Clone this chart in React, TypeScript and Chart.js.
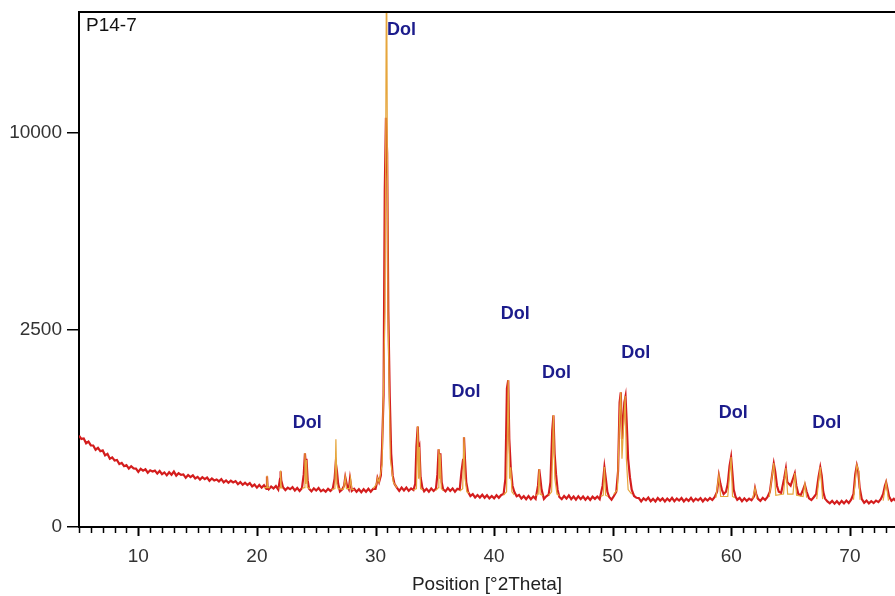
import { useEffect, useRef } from "react";
import { Chart, registerables } from "chart.js";

Chart.register(...registerables);

// ---------- text ----------
const SAMPLE_NAME = "P14-7";
const X_TITLE = "Position [°2Theta]";

// ---------- axes ----------
const X_MIN = 5;
const X_MAX = 73.8;
const Y_MAX_COUNTS = 17100;
const Y_TICKS = [0, 2500, 10000];
const X_LABEL_STEP = 10;

// ---------- measured scan (2θ, counts) ----------
const scanLow: [number, number][] = [
  [5.0, 538], [5.2, 500], [5.4, 505], [5.6, 452], [5.8, 470], [6.0, 430], [6.2, 428], [6.4, 385],
  [6.6, 404], [6.8, 370], [7.0, 378], [7.2, 331], [7.4, 345], [7.6, 300], [7.8, 312], [8.0, 285],
  [8.2, 290], [8.4, 255], [8.6, 265], [8.8, 238], [9.0, 246], [9.2, 220], [9.4, 238], [9.6, 222],
  [9.8, 220], [10.0, 196], [10.2, 218], [10.4, 205], [10.6, 215], [10.8, 190], [11.0, 207], [11.2, 198],
  [11.4, 205], [11.6, 184], [11.8, 202], [12.0, 180], [12.2, 192], [12.4, 172], [12.6, 193], [12.8, 176],
  [13.0, 198], [13.2, 170], [13.4, 186], [13.6, 175], [13.8, 178], [14.0, 156], [14.2, 174], [14.4, 160],
  [14.6, 172], [14.8, 152], [15.0, 162], [15.2, 145], [15.4, 160], [15.6, 148], [15.8, 158], [16.0, 138],
  [16.2, 152], [16.4, 140], [16.6, 146], [16.8, 134], [17.0, 148], [17.2, 128], [17.4, 140], [17.6, 126],
  [17.8, 138], [18.0, 128], [18.2, 136], [18.4, 118], [18.6, 130], [18.8, 115], [19.0, 126], [19.2, 114],
  [19.4, 124], [19.6, 106], [19.8, 116], [20.0, 100], [20.2, 114], [20.4, 100], [20.6, 112],
];

const scanMid: [number, number][] = [
  [20.8, 94], [20.85, 165], [20.9, 104], [21.0, 92], [21.2, 106], [21.4, 96], [21.6, 108], [21.8, 90],
  [21.95, 150], [22.0, 200], [22.05, 140], [22.2, 102], [22.4, 88], [22.6, 100], [22.8, 92], [23.0, 102],
  [23.2, 86], [23.4, 98], [23.6, 84], [23.8, 98], [23.95, 180], [24.05, 350], [24.12, 250], [24.18, 300],
  [24.28, 140], [24.4, 94], [24.6, 82], [24.8, 96], [25.0, 86], [25.2, 98], [25.4, 82], [25.6, 90],
  [25.8, 80], [26.0, 94], [26.2, 84], [26.4, 96], [26.55, 150], [26.65, 265], [26.75, 200], [26.85, 120],
  [27.0, 82], [27.2, 92], [27.35, 110], [27.45, 160], [27.6, 110], [27.75, 92], [27.85, 150], [28.0, 84],
  [28.2, 94], [28.4, 80], [28.6, 92], [28.8, 78], [29.0, 92], [29.2, 80], [29.4, 94], [29.6, 80],
  [29.8, 94], [30.0, 94], [30.1, 120], [30.17, 155], [30.3, 130],
];

const scanMain: [number, number][] = [
  [30.45, 170], [30.55, 400], [30.68, 1120], [30.78, 7300], [30.88, 10800], [30.98, 9000], [31.08, 3000],
  [31.2, 1100], [31.32, 350], [31.45, 170], [31.6, 120], [31.8, 100], [32.0, 84], [32.2, 100], [32.4, 86],
  [32.6, 100], [32.8, 84], [33.0, 96], [33.2, 88],
];

const scanA: [number, number][] = [
  [33.35, 120], [33.45, 420], [33.56, 650], [33.63, 380], [33.7, 410], [33.8, 160], [33.95, 100], [34.1, 82],
  [34.3, 94], [34.5, 80], [34.7, 96], [34.9, 84], [35.1, 96], [35.22, 180], [35.32, 390], [35.4, 260],
  [35.47, 350], [35.58, 130], [35.7, 92], [35.9, 82], [36.1, 98], [36.3, 84], [36.5, 96], [36.7, 80],
  [36.9, 94], [37.1, 90], [37.25, 200], [37.38, 290], [37.46, 520], [37.55, 280], [37.65, 130], [37.8, 80],
  [38.0, 62], [38.2, 70], [38.4, 56], [38.6, 66], [38.8, 56], [39.0, 67], [39.2, 55], [39.4, 65],
  [39.6, 53], [39.8, 62], [40.0, 53], [40.2, 65], [40.4, 55], [40.6, 66], [40.8, 70], [40.95, 150],
  [41.08, 1240], [41.19, 1390], [41.28, 500], [41.4, 230], [41.55, 110], [41.7, 80], [41.9, 61], [42.1, 66],
  [42.3, 52], [42.5, 61], [42.7, 50], [42.9, 62], [43.1, 50], [43.3, 60], [43.5, 51], [43.7, 110],
  [43.8, 215], [43.9, 150], [44.0, 90], [44.2, 51], [44.4, 61], [44.6, 68], [44.75, 130], [44.9, 600],
  [45.0, 805], [45.1, 350], [45.22, 180], [45.35, 90], [45.5, 58], [45.7, 50], [45.9, 62],
];

const scanB: [number, number][] = [
  [46.1, 52], [46.3, 64], [46.5, 50], [46.7, 60], [46.9, 48], [47.1, 61], [47.3, 50], [47.5, 60],
  [47.7, 48], [47.9, 58], [48.1, 47], [48.3, 59], [48.5, 51], [48.7, 60], [48.9, 50], [49.15, 110],
  [49.3, 230], [49.42, 150], [49.55, 80], [49.7, 58], [49.9, 48], [50.1, 62], [50.3, 80], [50.45, 200],
  [50.58, 1000], [50.68, 1170], [50.78, 500], [50.88, 700], [50.98, 1000], [51.08, 1100], [51.18, 700], [51.3, 300],
  [51.45, 160], [51.6, 90], [51.8, 62], [52.0, 55], [52.2, 54], [52.4, 42], [52.6, 53], [52.8, 46],
  [53.0, 56], [53.2, 43], [53.4, 51], [53.6, 42], [53.8, 54], [54.0, 45], [54.2, 53], [54.4, 42],
  [54.6, 52], [54.8, 44], [55.0, 55], [55.2, 43], [55.4, 52], [55.6, 45], [55.8, 54], [56.0, 42],
  [56.2, 51], [56.4, 44], [56.6, 55], [56.8, 43], [57.0, 52], [57.2, 46], [57.4, 54], [57.6, 42],
  [57.8, 52], [58.0, 45], [58.2, 54], [58.4, 47], [58.6, 58], [58.8, 80], [58.95, 170], [59.08, 120],
  [59.2, 90], [59.35, 70], [59.55, 80], [59.7, 120], [59.85, 240], [59.98, 315], [60.08, 200], [60.2, 90],
];

const scanC: [number, number][] = [
  [60.35, 60], [60.5, 48], [60.7, 55], [60.9, 43], [61.1, 53], [61.3, 44], [61.5, 52], [61.7, 46],
  [61.9, 60], [62.0, 95], [62.1, 70], [62.25, 51], [62.45, 44], [62.65, 55], [62.85, 47], [63.05, 58],
  [63.25, 80], [63.45, 180], [63.58, 260], [63.7, 200], [63.85, 110], [64.0, 80], [64.2, 75], [64.45, 150],
  [64.6, 220], [64.72, 130], [64.85, 120], [65.0, 110], [65.2, 150], [65.35, 185], [65.48, 110], [65.65, 70],
  [65.85, 65], [66.05, 90], [66.2, 115], [66.35, 80], [66.55, 53], [66.75, 47], [66.95, 57], [67.15, 70],
  [67.35, 160], [67.5, 230], [67.62, 170], [67.75, 80], [67.9, 52], [68.1, 42], [68.3, 36], [68.5, 44],
  [68.7, 35], [68.9, 43], [69.1, 34], [69.3, 44], [69.5, 36], [69.7, 45], [69.9, 37], [70.1, 48],
  [70.3, 70], [70.45, 180], [70.58, 245], [70.7, 200], [70.82, 100], [71.0, 50], [71.2, 38], [71.4, 45],
  [71.6, 36], [71.8, 43], [72.0, 37], [72.2, 45], [72.4, 40], [72.6, 50], [72.8, 70], [72.95, 110],
  [73.05, 130], [73.15, 100], [73.3, 60], [73.5, 44], [73.7, 51], [73.9, 42],
];

// ---------- calculated profile segments (2θ, counts) ----------
const calcGroups: [number, number][][] = [
  [[20.6, 100], [20.8, 100], [20.85, 170], [20.9, 100], [21.1, 100]],
  [[21.8, 98], [21.95, 98], [22.0, 205], [22.05, 98], [22.2, 98]],
  [[23.8, 95], [23.98, 100], [24.05, 353], [24.12, 120], [24.18, 290], [24.25, 100], [24.5, 95]],
  [[26.3, 90], [26.58, 95], [26.66, 497], [26.74, 120], [26.85, 95], [27.3, 92], [27.45, 160], [27.55, 95],
   [27.8, 95], [27.9, 150], [28.0, 92], [28.2, 90]],
  [[29.8, 95], [30.1, 120], [30.17, 155], [30.3, 130], [30.55, 250], [30.8, 3000], [30.93, 22000],
   [31.05, 3000], [31.25, 300], [31.5, 130], [31.8, 100]],
  [[33.2, 88], [33.45, 95], [33.56, 657], [33.63, 150], [33.7, 412], [33.8, 95], [34.0, 88]],
  [[35.1, 86], [35.3, 100], [35.34, 392], [35.4, 150], [35.45, 340], [35.55, 95], [35.7, 86]],
  [[37.1, 84], [37.35, 95], [37.46, 522], [37.55, 150], [37.7, 80], [37.9, 75]],
  [[40.8, 66], [41.05, 80], [41.19, 1392], [41.3, 150], [41.4, 230], [41.5, 80], [41.7, 66]],
  [[43.5, 64], [43.72, 70], [43.8, 217], [43.88, 70], [44.1, 64]],
  [[44.6, 64], [44.85, 80], [45.0, 808], [45.12, 150], [45.3, 70], [45.5, 64]],
  [[49.0, 60], [49.2, 65], [49.3, 232], [49.4, 65], [49.6, 60]],
  [[50.1, 70], [50.4, 90], [50.6, 900], [50.68, 1174], [50.78, 300], [50.9, 600], [51.05, 1105], [51.15, 300],
   [51.3, 90], [51.6, 70]],
  [[58.7, 55], [58.95, 174], [59.1, 60], [59.7, 60], [59.98, 316], [60.1, 60], [60.3, 55]],
  [[61.8, 52], [62.0, 98], [62.15, 52]],
  [[63.2, 58], [63.58, 264], [63.75, 65], [64.4, 70], [64.6, 224], [64.75, 70], [65.2, 70], [65.35, 188],
   [65.5, 65], [66.05, 60], [66.2, 119], [66.35, 55]],
  [[67.2, 50], [67.5, 232], [67.7, 50]],
  [[70.3, 48], [70.58, 248], [70.75, 200], [70.85, 48]],
  [[72.8, 45], [73.05, 130], [73.25, 45]],
];

// ---------- phase labels ----------
const phaseText = ["Dol", "Dol", "Dol", "Dol", "Dol", "Dol", "Dol", "Dol"];
const phaseX = [32.2, 24.24, 37.63, 41.78, 45.25, 51.95, 60.17, 68.05];
const phaseY = [15910, 697, 1174, 2923, 1528, 1950, 837, 697];

const FONT = '"Liberation Sans", Arial, Helvetica, sans-serif';

export default function App() {
  const canvasRef = useRef<HTMLCanvasElement | null>(null);

  useEffect(() => {
    const canvas = canvasRef.current;
    if (!canvas) return;

    const measured = [...scanLow, ...scanMid, ...scanMain, ...scanA, ...scanB, ...scanC].map(([x, c]) => ({
      x,
      y: Math.sqrt(c),
    }));
    const calc: { x: number; y: number | null }[] = [];
    calcGroups.forEach((g) => {
      g.forEach(([x, c]) => calc.push({ x, y: Math.sqrt(c) }));
      calc.push({ x: g[g.length - 1][0] + 0.01, y: null });
    });

    const overlay = {
      id: "overlay",
      afterDraw(chart: any) {
        const { ctx, chartArea, scales } = chart;
        const xs = scales.x;
        const ys = scales.y;
        ctx.save();
        ctx.strokeStyle = "#000";
        ctx.lineWidth = 2;
        ctx.beginPath();
        ctx.moveTo(chartArea.left - 1, chartArea.top);
        ctx.lineTo(chartArea.right, chartArea.top);
        ctx.stroke();
        for (let v = Math.ceil(X_MIN); v <= X_MAX; v++) {
          const px = Math.round(xs.getPixelForValue(v)) + 0.5;
          const major = v % X_LABEL_STEP === 0;
          ctx.lineWidth = major ? 2 : 1.5;
          ctx.beginPath();
          ctx.moveTo(px, chartArea.bottom);
          ctx.lineTo(px, chartArea.bottom + (major ? 9 : 6));
          ctx.stroke();
        }
        ctx.fillStyle = "#111";
        ctx.font = `19px ${FONT}`;
        ctx.textAlign = "left";
        ctx.textBaseline = "middle";
        ctx.fillText(SAMPLE_NAME, chartArea.left + 7, chartArea.top + 14);
        ctx.fillStyle = "#1c1c8c";
        ctx.font = `bold 18px ${FONT}`;
        ctx.textAlign = "center";
        for (let i = 0; i < phaseText.length; i++) {
          ctx.fillText(phaseText[i], xs.getPixelForValue(phaseX[i]), ys.getPixelForValue(Math.sqrt(phaseY[i])));
        }
        ctx.restore();
      },
    };

    const chart = new Chart(canvas, {
      type: "line",
      data: {
        datasets: [
          {
            label: "calculated",
            data: calc as any,
            borderColor: "#e6a63c",
            borderWidth: 1.2,
            pointRadius: 0,
            tension: 0,
            spanGaps: false,
            order: 0,
          },
          {
            label: "measured",
            data: measured,
            borderColor: "#d41d1d",
            borderWidth: 2.2,
            pointRadius: 0,
            tension: 0,
            order: 1,
          },
        ],
      },
      options: {
        animation: false,
        responsive: true,
        maintainAspectRatio: false,
        devicePixelRatio: 1,
        layout: { padding: { top: 12, left: 0, right: 0, bottom: 0 } },
        plugins: { legend: { display: false }, tooltip: { enabled: false }, title: { display: false } },
        scales: {
          x: {
            type: "linear",
            min: X_MIN,
            max: X_MAX,
            afterBuildTicks: (scale: any) => {
              const t: { value: number }[] = [];
              for (let v = Math.ceil(X_MIN); v <= X_MAX; v++) t.push({ value: v });
              scale.ticks = t;
            },
            afterFit: (scale: any) => {
              scale.height = 69;
              scale.paddingLeft = 0;
              scale.paddingRight = 0;
            },
            ticks: {
              autoSkip: false,
              maxRotation: 0,
              padding: 10,
              color: "#333",
              font: { family: FONT, size: 19 },
              callback: (v: any) => (Number(v) % X_LABEL_STEP === 0 ? String(v) : ""),
            },
            grid: { drawOnChartArea: false, drawTicks: true, tickLength: 8, color: "rgba(0,0,0,0)" },
            border: { display: true, color: "#000", width: 2 },
            title: {
              display: true,
              text: X_TITLE,
              color: "#222",
              font: { family: FONT, size: 19 },
              padding: { top: 0, bottom: 0 },
            },
          },
          y: {
            type: "linear",
            min: 0,
            max: Math.sqrt(Y_MAX_COUNTS),
            afterBuildTicks: (scale: any) => {
              scale.ticks = Y_TICKS.map((c) => ({ value: Math.sqrt(c) }));
            },
            afterFit: (scale: any) => {
              scale.width = 79;
              scale.paddingTop = 0;
              scale.paddingBottom = 0;
            },
            ticks: {
              padding: 5,
              color: "#333",
              font: { family: FONT, size: 19 },
              callback: (v: any) => String(Math.round(Number(v) * Number(v))),
            },
            grid: { drawOnChartArea: false, drawTicks: true, tickLength: 12, color: "#000", lineWidth: 1.5 },
            border: { display: true, color: "#000", width: 2 },
          },
        },
      },
      plugins: [overlay],
    });

    return () => chart.destroy();
  }, []);

  return (
    <div style={{ position: "fixed", left: 0, top: 0, width: 895, height: 596, background: "#fff" }}>
      <canvas ref={canvasRef} />
    </div>
  );
}
